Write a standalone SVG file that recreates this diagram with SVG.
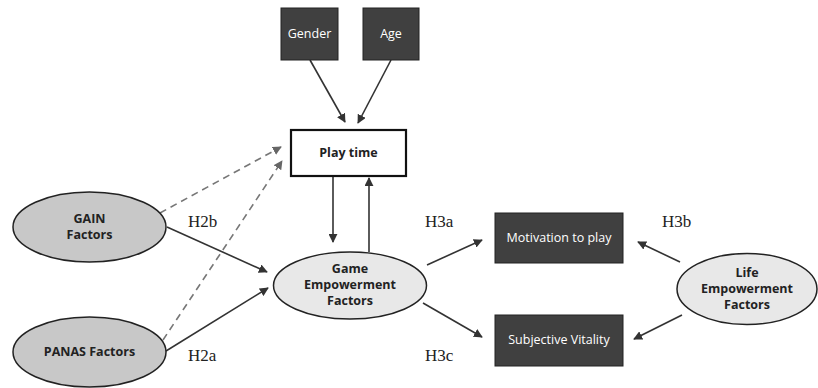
<svg xmlns="http://www.w3.org/2000/svg" width="818" height="388" viewBox="0 0 818 388">
<defs>
<marker id="ah" viewBox="0 0 10 10" refX="9" refY="5" markerWidth="9" markerHeight="9" markerUnits="userSpaceOnUse" orient="auto"><path d="M0,0 L10,5 L0,10 z" fill="#333"/></marker>
<marker id="ahg" viewBox="0 0 10 10" refX="9" refY="5" markerWidth="9" markerHeight="9" markerUnits="userSpaceOnUse" orient="auto"><path d="M0,0 L10,5 L0,10 z" fill="#666"/></marker>
</defs>
<style>
.dark{fill:#404040;stroke:#222;stroke-width:1}
.wt{fill:#fff;font-family:"Open Sans","DejaVu Sans",sans-serif;font-size:12.5px;text-anchor:middle}
.bt{fill:#222;font-family:"Open Sans","DejaVu Sans",sans-serif;font-size:12.5px;font-weight:bold;text-anchor:middle}
.h{fill:#222;font-family:"Liberation Serif",serif;font-size:17px}
.ln{stroke:#333;stroke-width:1.6;fill:none;marker-end:url(#ah)}
.ds{stroke:#777;stroke-width:1.6;fill:none;stroke-dasharray:7,5;marker-end:url(#ahg)}
.eg{fill:#c8c8c8;stroke:#222;stroke-width:1.5}
.el{fill:#e8e8e8;stroke:#222;stroke-width:1.5}
</style>
<rect width="818" height="388" fill="#fff"/>
<g id="connectors">
<line class="ln" x1="310" y1="60" x2="345" y2="122"/>
<line class="ln" x1="391" y1="60" x2="358" y2="123"/>
<line class="ln" x1="333" y1="177" x2="333" y2="242"/>
<line class="ln" x1="369" y1="252" x2="369" y2="178"/>
<line class="ds" x1="160" y1="213" x2="281" y2="147"/>
<line class="ds" x1="163" y1="340" x2="282" y2="161"/>
<line class="ln" x1="167" y1="227" x2="267" y2="272"/>
<line class="ln" x1="166" y1="351" x2="268" y2="288"/>
<line class="ln" x1="427" y1="265" x2="482" y2="240"/>
<line class="ln" x1="423" y1="303" x2="482" y2="337"/>
<line class="ln" x1="680" y1="262" x2="638" y2="242"/>
<line class="ln" x1="682" y1="315" x2="634" y2="339"/>
</g>
<g id="gender"><rect class="dark" x="281" y="8" width="57" height="52"/><text class="wt" x="309.5" y="38">Gender</text></g>
<g id="age"><rect class="dark" x="363" y="8" width="56" height="52"/><text class="wt" x="391" y="38">Age</text></g>
<g id="playtime"><rect x="291" y="130" width="115" height="46" fill="#fff" stroke="#111" stroke-width="2.2"/><text class="bt" x="348.5" y="157">Play time</text></g>
<g id="gain"><ellipse class="eg" cx="89.5" cy="227" rx="76.5" ry="35"/><text class="bt" x="89.5" y="223">GAIN</text><text class="bt" x="89.5" y="239">Factors</text></g>
<g id="panas"><ellipse class="eg" cx="89.5" cy="352" rx="76.5" ry="35"/><text class="bt" x="89.5" y="356">PANAS Factors</text></g>
<g id="game"><ellipse class="el" cx="350" cy="285.5" rx="76.5" ry="33.5"/><text class="bt" x="350" y="273">Game</text><text class="bt" x="350" y="289">Empowerment</text><text class="bt" x="350" y="305">Factors</text></g>
<g id="motivation"><rect class="dark" x="495" y="213" width="128" height="50"/><text class="wt" x="559" y="242">Motivation to play</text></g>
<g id="vitality"><rect class="dark" x="495" y="315" width="128" height="51"/><text class="wt" x="559" y="344">Subjective Vitality</text></g>
<g id="life"><ellipse class="el" cx="747" cy="289" rx="70" ry="35.5"/><text class="bt" x="747" y="277">Life</text><text class="bt" x="747" y="293">Empowerment</text><text class="bt" x="747" y="309">Factors</text></g>
<g id="labels">
<text class="h" x="188" y="227">H2b</text>
<text class="h" x="188" y="361">H2a</text>
<text class="h" x="425" y="227">H3a</text>
<text class="h" x="662" y="227">H3b</text>
<text class="h" x="425" y="361">H3c</text>
</g>
</svg>
